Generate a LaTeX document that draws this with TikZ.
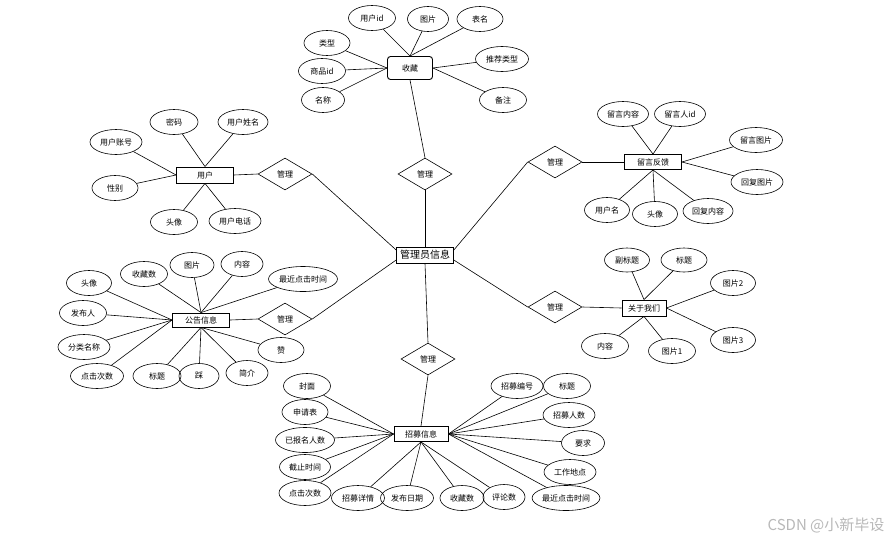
\documentclass[tikz,border=0pt]{standalone}
\usepackage{fontspec}
\setmainfont{Noto Sans CJK SC}
\usetikzlibrary{shapes.geometric}
\begin{document}
\begin{tikzpicture}[x=1pt,y=-1pt,
 every node/.style={font=\fontsize{8}{9}\selectfont},
 attr/.style={ellipse,draw,line width=0.6pt,minimum width=#1,minimum height=25pt,inner sep=0pt},
 attr/.default=46pt,
 ent/.style={rectangle,draw,line width=0.9pt,minimum width=#1,minimum height=16pt,inner sep=0pt},
 ent/.default=57pt,
 rel/.style={diamond,draw,line width=0.6pt,minimum width=54pt,minimum height=32pt,inner sep=0pt},
 lnk/.style={line width=0.6pt}]
\useasboundingbox (0,0) rectangle (896,541);

% centre
\node[ent=57pt,minimum height=16pt,font=\fontsize{10}{12}\selectfont] (admin) at (425,255) {管理员信息};

% 收藏
\node[rel] (r1) at (425,174) {管理};
\node[ent=45pt,minimum height=23pt,rounded corners=3pt] (sc) at (410,68) {收藏};
\node[attr=47pt] (sc1) at (372,18) {用户id};
\node[attr=41pt] (sc2) at (428,19) {图片};
\node[attr=46pt] (sc3) at (480,19) {表名};
\node[attr=46pt] (sc4) at (327,43) {类型};
\node[attr=47pt] (sc5) at (322,71) {商品id};
\node[attr=43pt] (sc6) at (323,100) {名称};
\node[attr=53pt] (sc7) at (502,59) {推荐类型};
\node[attr=47pt] (sc8) at (503,100) {备注};

% 用户
\node[rel] (r2) at (285,174) {管理};
\node[ent] (yh) at (205,175) {用户};
\node[attr=48pt] (yh1) at (174,122) {密码};
\node[attr=50pt] (yh2) at (243,122) {用户姓名};
\node[attr=52pt] (yh3) at (116,142) {用户账号};
\node[attr=46pt] (yh4) at (115,188) {性别};
\node[attr=47pt] (yh5) at (174,222) {头像};
\node[attr=52pt] (yh6) at (235,221) {用户电话};

% 留言反馈
\node[rel] (r3) at (555,162) {管理};
\node[ent,minimum height=15pt] (ly) at (653,162) {留言反馈};
\node[attr=51pt] (ly1) at (623,114) {留言内容};
\node[attr=51pt] (ly2) at (680,114) {留言人id};
\node[attr=53pt] (ly3) at (756,140) {留言图片};
\node[attr=52pt] (ly4) at (757,182) {回复图片};
\node[attr=45pt] (ly5) at (607,210) {用户名};
\node[attr=45pt] (ly6) at (655,214) {头像};
\node[attr=50pt] (ly7) at (708,211) {回复内容};

% 公告信息
\node[rel] (r4) at (285,319) {管理};
\node[ent,minimum height=14pt] (gg) at (201,320) {公告信息};
\node[attr=45pt] (gg1) at (89,283) {头像};
\node[attr=47pt] (gg2) at (144,274) {收藏数};
\node[attr=44pt] (gg3) at (192,265) {图片};
\node[attr=42pt] (gg4) at (242,264) {内容};
\node[attr=69pt] (gg5) at (303,279) {最近点击时间};
\node[attr=47pt] (gg6) at (83,313) {发布人};
\node[attr=52pt] (gg7) at (84,347) {分类名称};
\node[attr=53pt] (gg8) at (97,376) {点击次数};
\node[attr=48pt] (gg9) at (157,376) {标题};
\node[attr=40pt] (gg10) at (199,376) {踩};
\node[attr=42pt] (gg11) at (247,373) {简介};
\node[attr=46pt] (gg12) at (281,350) {赞};

% 关于我们
\node[rel] (r5) at (555,307) {管理};
\node[ent=44pt] (gy) at (644,308) {关于我们};
\node[attr=45pt,minimum height=24pt] (gy1) at (627,260) {副标题};
\node[attr=46pt,minimum height=24pt] (gy2) at (684,260) {标题};
\node[attr=45pt] (gy3) at (733,283) {图片2};
\node[attr=45pt] (gy4) at (733,340) {图片3};
\node[attr=47pt] (gy5) at (605,346) {内容};
\node[attr=47pt] (gy6) at (672,351) {图片1};

% 招募信息
\node[rel] (r6) at (428,359) {管理};
\node[ent=54pt,minimum height=15pt] (zm) at (421,434) {招募信息};
\node[attr=47pt] (zm1) at (307,386) {封面};
\node[attr=46pt] (zm2) at (305,412) {申请表};
\node[attr=59pt] (zm3) at (305,440) {已报名人数};
\node[attr=51pt] (zm4) at (305,467) {截止时间};
\node[attr=52pt] (zm5) at (305,493) {点击次数};
\node[attr=53pt] (zm6) at (358,498) {招募详情};
\node[attr=53pt] (zm7) at (407,498) {发布日期};
\node[attr=44pt] (zm8) at (462,498) {收藏数};
\node[attr=42pt] (zm9) at (504,497) {评论数};
\node[attr=62pt] (zm10) at (566,498) {最近点击时间};
\node[attr=52pt] (zm11) at (570,472) {工作地点};
\node[attr=43pt] (zm12) at (583,443) {要求};
\node[attr=52pt] (zm13) at (569,415) {招募人数};
\node[attr=47pt] (zm14) at (567,386) {标题};
\node[attr=52pt] (zm15) at (517,386) {招募编号};

% watermark
\node[text=black!28,font=\fontsize{15}{17}\selectfont] (wm) at (826,525) {CSDN @小新毕设};

% connectors
\foreach \a/\b in {sc1/sc.north,sc2/sc.north,sc3/sc.north,sc4/sc.west,sc5/sc.west,sc6/sc.west,sc7/sc.east,sc8/sc.east,
  sc.south/r1.north,r1.south/admin.north,
  yh1/yh.north,yh2/yh.north,yh3/yh.west,yh4/yh.west,yh5/yh.south,yh6/yh.south,yh.east/r2.west,r2.east/admin.170,
  ly1/ly.north,ly2/ly.north,ly3/ly.east,ly4/ly.east,ly5/ly.south,ly6/ly.south,ly7/ly.south,ly.west/r3.east,r3.west/admin.10,
  gg1/gg.west,gg6/gg.west,gg7/gg.west,gg8/gg.west,gg2/gg.north,gg3/gg.north,gg4/gg.north,gg5/gg.north,
  gg9/gg.south,gg10/gg.south,gg11/gg.south,gg12/gg.south,gg.east/r4.west,r4.east/admin.190,
  gy1/gy.north,gy2/gy.north,gy3/gy.east,gy4/gy.east,gy5/gy.south,gy6/gy.south,gy.west/r5.east,r5.west/admin.350,
  admin.south/r6.north,r6.south/zm.north,
  zm1/zm.west,zm2/zm.west,zm3/zm.west,zm4/zm.west,zm5/zm.west,
  zm6/zm.south,zm7/zm.south,zm8/zm.south,zm9/zm.south,
  zm10/zm.east,zm11/zm.east,zm12/zm.east,zm13/zm.east,zm14/zm.east,zm15/zm.east}
  \draw[lnk] (\a) -- (\b);
\end{tikzpicture}
\end{document}
